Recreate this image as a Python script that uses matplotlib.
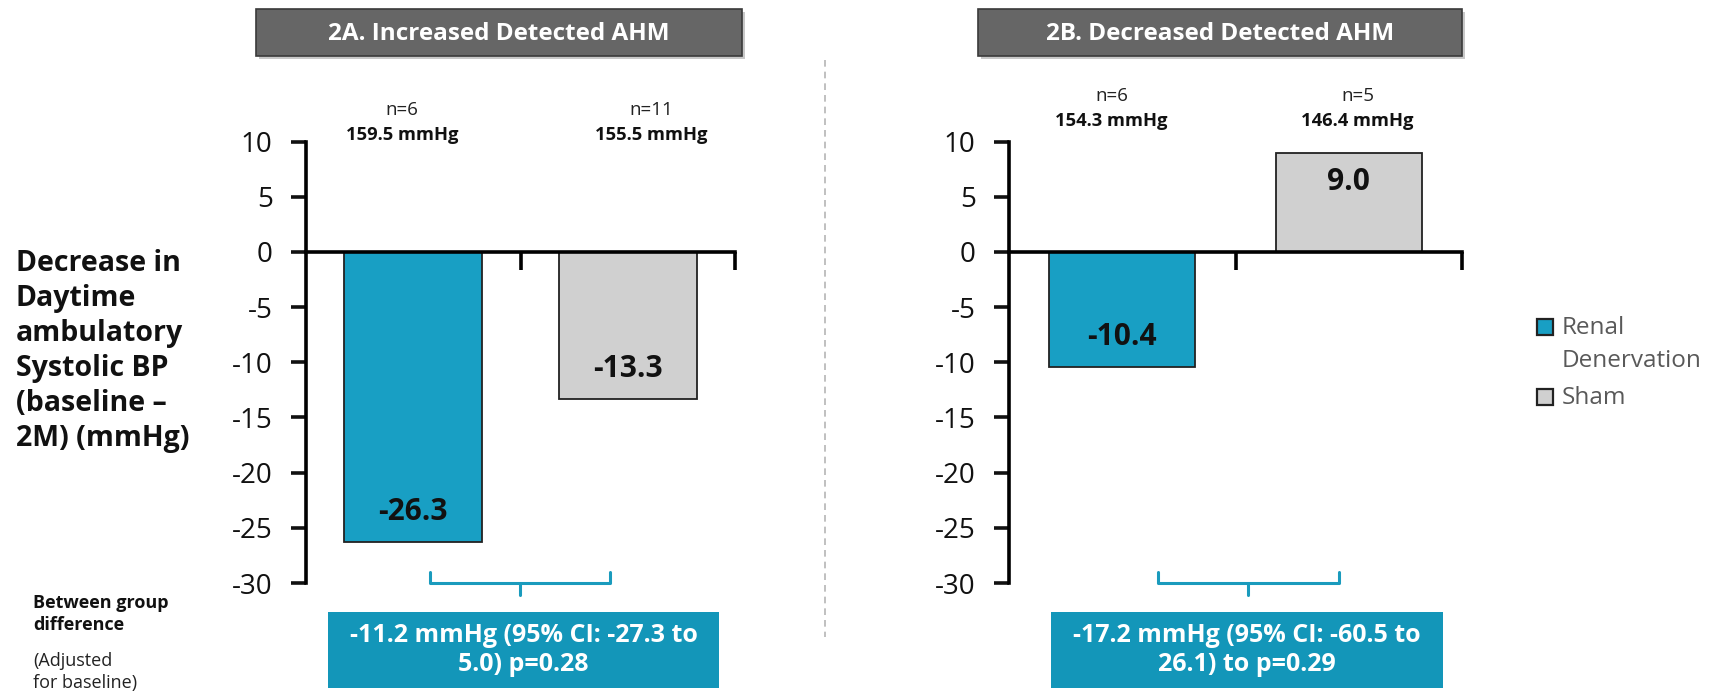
import matplotlib
matplotlib.use("Agg")
import matplotlib.pyplot as plt
from matplotlib.patches import Rectangle
from matplotlib.lines import Line2D

plt.rcParams['font.family'] = ['Open Sans', 'DejaVu Sans']

# ---------------- data ----------------
groups = ['Renal\nDenervation', 'Sham']
panel_titles = ['2A. Increased Detected AHM', '2B. Decreased Detected AHM']
values_A = [-26.3, -13.3]
values_B = [-10.4, 9.0]
n_A = [6, 11]
n_B = [6, 5]
baseline_A = [159.5, 155.5]
baseline_B = [154.3, 146.4]
diff_A = '-11.2 mmHg (95% CI: -27.3 to\n5.0) p=0.28'
diff_B = '-17.2 mmHg (95% CI: -60.5 to\n26.1) to p=0.29'
yticks = [10, 5, 0, -5, -10, -15, -20, -25, -30]
ylabel = 'Decrease in\nDaytime\nambulatory\nSystolic BP\n(baseline \u2013\n2M) (mmHg)'

# ---------------- style ----------------
W, H = 1711, 696
BLUE = '#189fc4'
BOXBLUE = '#1396b9'
GRAY = '#d0d0d0'
EDGE = '#222222'
colors = [BLUE, GRAY]

fig = plt.figure(figsize=(W / 100, H / 100), dpi=100)

def fx(px):
    return px / W

def fy(py):
    return 1 - py / H

def px_rect(x0, y0, x1, y1):
    return [fx(x0), fy(y1), fx(x1) - fx(x0), fy(y0) - fy(y1)]

panels = [
    dict(vals=values_A, n=n_A, base=baseline_A, title=panel_titles[0], diff=diff_A,
         ax=(306, 141.5, 735, 583), title_box=(256, 9, 742, 56),
         lab_x=[-0.052, 1.108], n_y=12.85, b_y=10.6,
         bracket=(0.078, 0.917, 0.498), diff_box=(328, 612, 719, 688)),
    dict(vals=values_B, n=n_B, base=baseline_B, title=panel_titles[1], diff=diff_B,
         ax=(1009, 141.5, 1462, 583), title_box=(978, 9, 1462, 56),
         lab_x=[-0.047, 1.039], n_y=14.1, b_y=11.9,
         bracket=(0.158, 0.955, 0.556), diff_box=(1051, 612, 1443, 688)),
]

for p in panels:
    ax = fig.add_axes(px_rect(*p['ax']))
    x = list(range(len(p['vals'])))
    ax.bar(x, p['vals'], width=0.645, color=colors, edgecolor=EDGE,
           linewidth=1.3, zorder=2)
    ax.set_xlim(-0.5, 1.5)
    ax.set_ylim(-30, 10)
    ax.set_yticks(yticks)
    ax.set_yticklabels([str(t) for t in yticks])
    ax.tick_params(axis='y', direction='out', length=11, width=2.6,
                   labelsize=20, pad=13, colors='#111111')
    for s in ['top', 'right']:
        ax.spines[s].set_visible(False)
    ax.spines['left'].set_linewidth(2.6)
    ax.spines['bottom'].set_position(('data', 0))
    ax.spines['bottom'].set_linewidth(2.6)
    ax.spines['bottom'].set_zorder(3)
    ax.set_xticks([0.5, 1.5])
    ax.set_xticklabels([])
    ax.tick_params(axis='x', direction='out', length=13, width=2.6)
    ax.patch.set_alpha(0)

    # value labels inside bars
    for xi, v in zip(x, p['vals']):
        yv = v + 2.7 if v < 0 else v - 2.7
        ax.text(xi, yv, f'{v:.1f}', ha='center', va='center', fontsize=21.5,
                fontweight='bold', color='#111111', zorder=4)
    # n and baseline labels above bars
    for lx, n, b in zip(p['lab_x'], p['n'], p['base']):
        ax.text(lx, p['n_y'], f'n={n}', ha='center', va='center', fontsize=13.5,
                color='#222222', clip_on=False)
        ax.text(lx, p['b_y'], f'{b} mmHg', ha='center', va='center', fontsize=13.2,
                fontweight='bold', color='#111111', clip_on=False)

    # bracket below the axis
    bl, br, bc = p['bracket']
    bkw = dict(color='#1a9bbd', lw=2.2, clip_on=False, solid_capstyle='round',
               solid_joinstyle='round')
    ax.plot([bl, bl, br, br], [-29.0, -30.0, -30.0, -29.0], **bkw)
    ax.plot([bc, bc], [-30.0, -31.1], **bkw)

    # title box with shadow
    tx0, ty0, tx1, ty1 = p['title_box']
    fig.patches.append(Rectangle((fx(tx0 + 3), fy(ty1 + 3)), fx(tx1) - fx(tx0),
                                 fy(ty0) - fy(ty1), transform=fig.transFigure,
                                 facecolor='#c8c8c8', edgecolor='none', zorder=1))
    fig.patches.append(Rectangle((fx(tx0), fy(ty1)), fx(tx1) - fx(tx0),
                                 fy(ty0) - fy(ty1), transform=fig.transFigure,
                                 facecolor='#666666', edgecolor='#3a3a3a',
                                 linewidth=1.2, zorder=2))
    fig.text(fx((tx0 + tx1) / 2), fy((ty0 + ty1) / 2 + 1), p['title'], ha='center',
             va='center', fontsize=17.5, fontweight='bold', color='white', zorder=3)

    # between-group difference box
    dx0, dy0, dx1, dy1 = p['diff_box']
    fig.patches.append(Rectangle((fx(dx0), fy(dy1)), fx(dx1) - fx(dx0),
                                 fy(dy0) - fy(dy1), transform=fig.transFigure,
                                 facecolor=BOXBLUE, edgecolor='none', zorder=1))
    fig.text(fx((dx0 + dx1) / 2), fy((dy0 + dy1) / 2), p['diff'], ha='center',
             va='center', fontsize=18, fontweight='bold', color='white',
             linespacing=1.25, zorder=3)

# separator dashed line
fig.add_artist(Line2D([fx(825), fx(825)], [fy(60), fy(637)], transform=fig.transFigure,
                      color='#b5b5b5', lw=1.2, ls=(0, (4, 3))))

# y label (left text block)
fig.text(fx(16), fy(351), ylabel, ha='left', va='center', fontsize=20.5,
         fontweight='bold', color='#111111', linespacing=1.27)

# between-group notes
fig.text(fx(33), fy(614), 'Between group\ndifference', ha='left', va='center',
         fontsize=13, fontweight='bold', color='#111111', linespacing=1.22)
fig.text(fx(33), fy(672), '(Adjusted\nfor baseline)', ha='left', va='center',
         fontsize=13, color='#222222', linespacing=1.35)

# legend (drawn manually so the swatch lines up with the first label line)
leg_sq_y = [327, 397]
for c, lab, yc in zip(colors, groups, leg_sq_y):
    fig.patches.append(Rectangle((fx(1537), fy(yc + 8)), fx(16), 16 / H,
                                 transform=fig.transFigure, facecolor=c,
                                 edgecolor=EDGE, linewidth=1.6, zorder=2))
    fig.text(fx(1562), fy(yc - 11), lab, ha='left', va='top', fontsize=17.5,
             color='#595959', linespacing=1.48)

fig.savefig('out.png', dpi=100)
